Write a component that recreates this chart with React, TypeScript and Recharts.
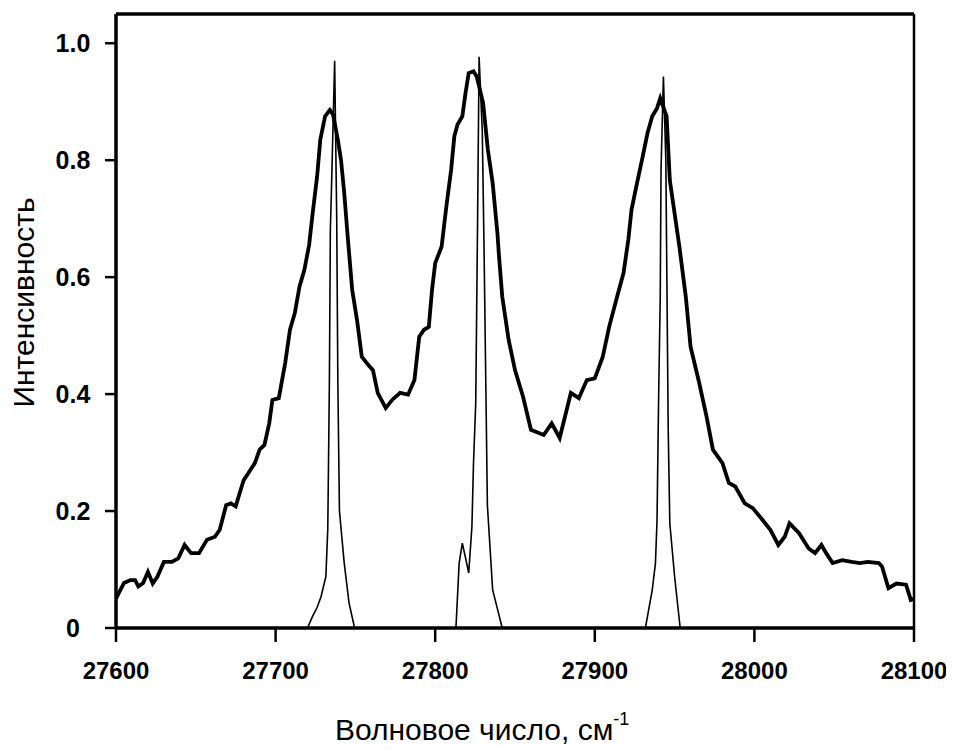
import React from "react";
import { LineChart, Line, XAxis, YAxis, ReferenceLine } from "recharts";

const broadWavenumbers = [
  27600, 27605, 27609, 27612, 27614, 27617, 27620, 27623, 27626, 27630, 27635, 27639, 27643, 27647, 27652,
  27657, 27662, 27665, 27669, 27672, 27675, 27680, 27683, 27687, 27690, 27693, 27696, 27698, 27702, 27706,
  27709, 27712, 27715, 27718, 27721, 27723, 27726, 27728, 27731, 27734, 27736, 27739, 27741, 27743, 27745,
  27748, 27751, 27754, 27758, 27761, 27764, 27769, 27773, 27778, 27783, 27787, 27790, 27793, 27796, 27798,
  27800, 27804, 27807, 27810, 27812, 27814, 27817, 27819, 27821, 27824, 27826, 27830, 27833, 27836, 27839,
  27840, 27842, 27846, 27850, 27855, 27860, 27868, 27873, 27878, 27885, 27890, 27895, 27900, 27905, 27909,
  27914, 27918, 27921, 27923, 27926, 27930, 27933, 27936, 27939, 27941, 27945, 27947, 27950, 27953, 27957,
  27960, 27965, 27970, 27974, 27980, 27984, 27988, 27994, 27999, 28005, 28010, 28015, 28019, 28022, 28028,
  28034, 28038, 28042, 28045, 28049, 28055, 28061, 28066, 28071, 28078, 28080, 28084, 28089, 28095, 28098,
  28100,
];
const broadIntensity = [
  0.05, 0.077, 0.082, 0.082, 0.071, 0.077, 0.096, 0.076, 0.088, 0.113, 0.113, 0.119, 0.142, 0.128, 0.128,
  0.151, 0.156, 0.168, 0.21, 0.213, 0.208, 0.253, 0.265, 0.282, 0.305, 0.313, 0.35, 0.39, 0.393, 0.453,
  0.51, 0.538, 0.584, 0.612, 0.655, 0.704, 0.772, 0.835, 0.875, 0.886, 0.878, 0.835, 0.8, 0.744, 0.675,
  0.578, 0.527, 0.464, 0.45, 0.441, 0.402, 0.376, 0.39, 0.402, 0.399, 0.424, 0.498, 0.51, 0.515, 0.578,
  0.624, 0.652, 0.721, 0.784, 0.841, 0.861, 0.875, 0.915, 0.949, 0.952, 0.943, 0.898, 0.818, 0.761, 0.675,
  0.635, 0.567, 0.493, 0.441, 0.396, 0.339, 0.33, 0.35, 0.325, 0.402, 0.393, 0.424, 0.427, 0.464, 0.515,
  0.567, 0.607, 0.664, 0.715, 0.755, 0.806, 0.846, 0.875, 0.889, 0.906, 0.875, 0.766, 0.709, 0.652, 0.567,
  0.481, 0.424, 0.362, 0.305, 0.282, 0.248, 0.242, 0.213, 0.205, 0.185, 0.168, 0.142, 0.156, 0.179, 0.162,
  0.136, 0.128, 0.142, 0.128, 0.111, 0.116, 0.113, 0.111, 0.113, 0.111, 0.105, 0.068, 0.076, 0.074, 0.048,
  0.05,
];

const narrowWavenumbers = [
  27720, 27723, 27726, 27728.5, 27731.5, 27732.7, 27733.7, 27734.3, 27735, 27737, 27738.3, 27739, 27740, 27743, 27746, 27749.5,
  27780,
  27813, 27815, 27817, 27819, 27821, 27823, 27824, 27825.4, 27826.5, 27827.5, 27829.5, 27830.6, 27831.7, 27832.7, 27836, 27842,
  27890,
  27931.7, 27936, 27938, 27939, 27940, 27941, 27941.5, 27943, 27944.5, 27945, 27946, 27947, 27950, 27953.5,
];
const narrowIntensity = [
  0, 0.019, 0.035, 0.054, 0.088, 0.17, 0.42, 0.68, 0.75, 0.97, 0.7, 0.42, 0.2, 0.111, 0.043, 0,
  null,
  0, 0.111, 0.145, 0.12, 0.094, 0.173, 0.282, 0.385, 0.681, 0.977, 0.85, 0.65, 0.42, 0.21, 0.065, 0,
  null,
  0, 0.065, 0.111, 0.185, 0.396, 0.567, 0.784, 0.943, 0.8, 0.647, 0.339, 0.179, 0.088, 0,
];

const xTicks = [27600, 27700, 27800, 27900, 28000, 28100];
const yTicks = [0, 0.2, 0.4, 0.6, 0.8, 1.0];

const broadData = broadWavenumbers.map((w, i) => ({ w, v: broadIntensity[i] }));
const narrowData = narrowWavenumbers.map((w, i) => ({ w, v: narrowIntensity[i] }));

const FONT = "'Liberation Sans', Arial, sans-serif";

const XTick = (props: any) => {
  const { x, y, payload } = props;
  return (
    <text
      x={x}
      y={y}
      dy="0.71em"
      textAnchor="middle"
      fontFamily={FONT}
      fontSize={24}
      fontWeight={700}
      fill="#000"
    >
      {String(payload.value)}
    </text>
  );
};

const YTick = (props: any) => {
  const { x, y, payload } = props;
  const v = payload.value as number;
  const label = v === 0 ? "0" : v.toFixed(1);
  return (
    <text
      x={x}
      y={y}
      dy="0.355em"
      textAnchor="middle"
      fontFamily={FONT}
      fontSize={25}
      fontWeight={700}
      fill="#000"
    >
      {label}
    </text>
  );
};

const XTitle = (props: any) => {
  const vb = props.viewBox || { x: 0, y: 0 };
  return (
    <text x={vb.x + 219} y={vb.y + 112} fontFamily={FONT} fontSize={30} fill="#000">
      <tspan>Волновое число, см</tspan>
      <tspan fontSize={18} dy={-15}>-1</tspan>
    </text>
  );
};

const YTitle = () => {
  const cx = 15;
  const cy = 294.5;
  return (
    <text
      x={cx}
      y={cy}
      fontFamily={FONT}
      fontSize={30}
      fill="#000"
      textAnchor="middle"
      dominantBaseline="central"
      transform={`rotate(-90, ${cx}, ${cy})`}
    >
      Интенсивность
    </text>
  );
};

export default function App() {
  return (
    <LineChart
      width={946}
      height={741}
      margin={{ top: 6, right: 40, left: 0, bottom: 61 }}
      style={{ background: "#fff", overflow: "visible" }}
    >
      <XAxis
        dataKey="w"
        type="number"
        domain={[27600, 28100]}
        ticks={xTicks}
        allowDataOverflow
        height={60}
        tickSize={14}
        tickMargin={20}
        tick={<XTick />}
        axisLine={{ stroke: "#000", strokeWidth: 3.5 }}
        tickLine={{ stroke: "#000", strokeWidth: 2.5 }}
        label={<XTitle />}
      />
      <YAxis
        type="number"
        domain={[0, 1.05]}
        ticks={yTicks}
        allowDataOverflow
        width={108}
        tickSize={11}
        tickMargin={32}
        tick={<YTick />}
        axisLine={{ stroke: "#000", strokeWidth: 3.5 }}
        tickLine={{ stroke: "#000", strokeWidth: 2.5 }}
        label={<YTitle />}
      />
      <ReferenceLine y={1.05} stroke="#000" strokeWidth={3.5} />
      <ReferenceLine x={28100} stroke="#000" strokeWidth={2.5} />
      <Line
        data={narrowData}
        dataKey="v"
        type="linear"
        stroke="#000"
        strokeWidth={1.6}
        dot={false}
        connectNulls={false}
        isAnimationActive={false}
      />
      <Line
        data={broadData}
        dataKey="v"
        type="linear"
        stroke="#000"
        strokeWidth={3.8}
        dot={false}
        isAnimationActive={false}
      />
    </LineChart>
  );
}
